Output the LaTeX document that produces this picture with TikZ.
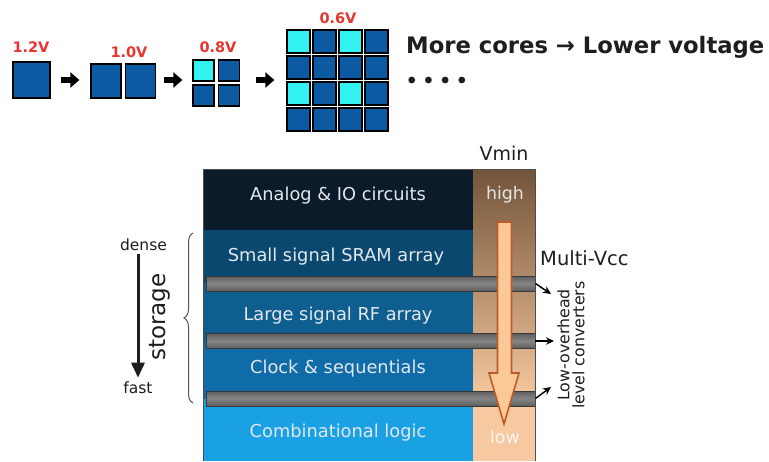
\documentclass[tikz,border=0pt]{standalone}
\usepackage{fontspec}
\setmainfont{DejaVu Sans}
\usetikzlibrary{arrows.meta,decorations.pathreplacing}

\definecolor{coreblue}{HTML}{0B5AA2}
\definecolor{corecyan}{HTML}{33F2F2}
\definecolor{voltred}{HTML}{E8352F}
\definecolor{bandA}{HTML}{0C1B2A}
\definecolor{bandB}{HTML}{0B4870}
\definecolor{bandC}{HTML}{0E5E90}
\definecolor{bandD}{HTML}{0F6CA8}
\definecolor{bandE}{HTML}{1AA1E4}
\definecolor{vtop}{HTML}{725439}
\definecolor{vlow}{HTML}{F7C9A0}
\definecolor{arrfill}{HTML}{FDC898}
\definecolor{arredge}{HTML}{BB5C26}
\definecolor{bardark}{HTML}{5E5E5E}
\definecolor{barlight}{HTML}{858585}
\definecolor{ink}{HTML}{1E1E1E}
\definecolor{bandtext}{HTML}{E2E7EC}

\newcommand\fsz[1]{\fontsize{#1}{#1}\selectfont}

\begin{document}
\begin{tikzpicture}[x=1pt,y=-1pt,
  core/.style={draw=black,line width=1.2pt,fill=coreblue,inner sep=0pt},
  hot/.style={core,fill=corecyan},
  volt/.style={text=voltred,font=\bfseries\fsz{14.5}},
  stepar/.style={line width=6pt,-{Triangle[length=9pt,width=15pt]}},
  band/.style={draw=none,inner sep=0pt,minimum width=270pt,anchor=north west},
  bandlbl/.style={text=bandtext,font=\fsz{17.8},anchor=base},
  bar/.style={draw=black!78,line width=0.9pt,top color=bardark,bottom color=bardark,
    middle color=barlight,minimum width=329pt,minimum height=15pt,inner sep=0pt},
  conv/.style={line width=1.4pt,-{Stealth[length=8pt,width=7.5pt]}},
  note/.style={text=ink,inner sep=0pt},
  side/.style={text=ink,font=\fsz{15.5},anchor=base},
]
\useasboundingbox[fill=white] (0,0) rectangle (769,461);

% ---------- cores and supply voltages ----------
\node[core,minimum width=37pt,minimum height=36pt] (s1) at (31.5,80) {};
\node[core,minimum width=30pt,minimum height=34pt] (s2a) at (106,81) {};
\node[core,minimum width=30pt,minimum height=34pt] (s2b) at (140.5,81) {};

\node[hot,minimum size=21pt]  (q11) at (203.5,70.5) {};
\node[core,minimum size=21pt] (q12) at (229,70.5) {};
\node[core,minimum size=21pt] (q21) at (203.5,95.5) {};
\node[core,minimum size=21pt] (q22) at (229,95.5) {};

\foreach \r in {0,...,3}
  \foreach \c in {0,...,3}
    \node[core,minimum size=23pt] (g\r\c) at ({298.5+26*\c},{41.5+26*\r}) {};
\foreach \n in {00,02,20,22}
  \node[hot,minimum size=23pt] (h\n) at (g\n) {};

\draw[stepar,shorten <=10pt,shorten >=11pt] (s1.east) -- (s1.east -| s2a.west);
\draw[stepar,shorten <=8pt,shorten >=10pt] (s2b.east |- s1.east) -- (s1.east -| q11.west);
\draw[stepar,shorten <=16pt,shorten >=12pt] (q12.east |- s1.east) -- (s1.east -| g10.west);

\node[volt] (v1) at (31,47) {1.2V};
\node[volt] (v2) at (129,52) {1.0V};
\node[volt] (v3) at (218,47) {0.8V};
\node[volt] (v4) at (338,18) {0.6V};

\node[note,anchor=base west,font=\bfseries\fsz{22.7}] (head) at (406,53) {More cores → Lower voltage};
\foreach \i in {0,...,3}
  \fill[ink] ({411.7+16.7*\i},80) circle (3.4pt);

% ---------- circuit stack ----------
\node[band,fill=bandA,minimum height=61pt]   (analog) at (203,169) {};
\node[band,fill=bandB,minimum height=53pt]   (sram)   at (203,230) {};
\node[band,fill=bandC,minimum height=58pt]   (rf)     at (203,283) {};
\node[band,fill=bandD,minimum height=57.5pt] (clk)    at (203,341) {};
\node[band,fill=bandE,minimum height=62.5pt] (comb)   at (203,398.5) {};

% Vmin column
\fill[vlow] (473,169) rectangle (535,461);
\shade[top color=vtop,bottom color=vlow] (473,169) rectangle (535,400);

\node[bar] (bar1) at (370.5,283.5) {};
\node[bar] (bar2) at (370.5,341) {};
\node[bar] (bar3) at (370.5,398.5) {};

\draw[black!70,line width=0.8pt] (203,461) |- (535,169) -- (535,461);

\node[bandlbl] (tA) at (338,200) {Analog \& IO circuits};
\node[bandlbl] (tB) at (336,261) {Small signal SRAM array};
\node[bandlbl] (tC) at (338,320) {Large signal RF array};
\node[bandlbl] (tD) at (338,373) {Clock \& sequentials};
\node[bandlbl] (tE) at (338,437) {Combinational logic};

% Vmin trend arrow
\filldraw[fill=arrfill,draw=arredge,line width=1.6pt,line join=miter]
  (497.5,222) -- (511.5,222) -- (511.5,373) -- (519,373) -- (504,424)
  -- (489,373) -- (497.5,373) -- cycle;

\node[anchor=base,text=white!90!black,font=\fsz{17.4}] (hi) at (505,199) {high};
\node[anchor=base,text=white!85!vlow,font=\fsz{17.4}] (lo) at (505,443) {low};
\node[note,anchor=base,font=\fsz{19}] (vmin) at (504,160) {Vmin};

% level converters
\node[note,anchor=base west,font=\fsz{19.5}] (mvcc) at (540,265) {Multi-Vcc};
\node[note,rotate=90,align=center,font=\fontsize{15.8}{15}\selectfont] (lvl) at (571,345)
  {Low-overhead\\level converters};
\coordinate (e1) at (551,294);
\coordinate (e2) at (554,341);
\coordinate (e3) at (551,387);
\draw[conv] (bar1.east) -- (e1);
\draw[conv] (bar2.east) -- (e2);
\draw[conv] (bar3.east) -- (e3);

% storage density axis
\node[side] (dense) at (143.5,250) {dense};
\node[side] (fast) at (138,393) {fast};
\draw[ink,line width=3pt,-{Triangle[length=15pt,width=13pt]}] (fast.north |- dense.south) -- (fast.north);
\node[text=ink,rotate=90,font=\fsz{23}] (stor) at (160,317) {storage};
\draw[decorate,decoration={brace,amplitude=9pt,mirror},ink!75,line width=1pt] (193,233) -- (193,403);
\end{tikzpicture}
\end{document}
